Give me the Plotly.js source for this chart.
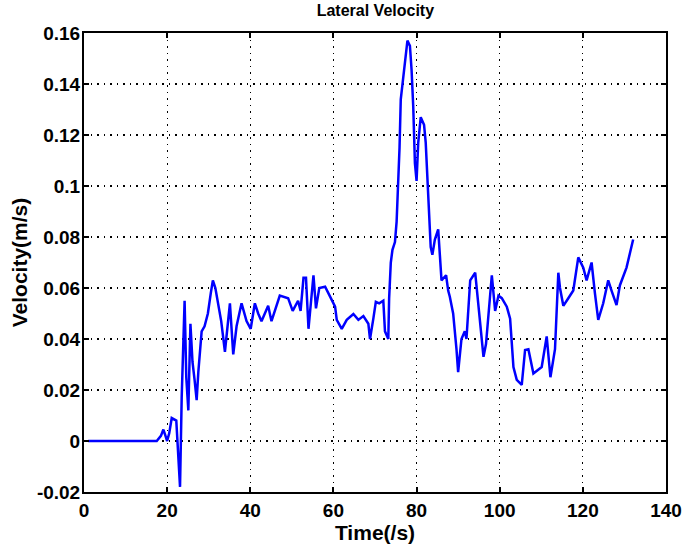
<!DOCTYPE html>
<html>
<head>
<meta charset="utf-8">
<script src="https://cdn.plot.ly/plotly-3.0.1.min.js"></script>
<style>
  body { margin: 0; background: #fff; }
  #plot { width: 685px; height: 547px; }
</style>
</head>
<body>
<div id="plot"></div>
<script>
// time (s) and lateral velocity (m/s)
var time = [1, 5, 10, 15, 17.5, 18.5, 19.1, 19.6, 20, 20.5,
  21.1, 22.2, 22.7, 23.1, 23.5, 23.9, 24.2, 24.6, 25.1, 25.6,
  25.9, 26.1, 26.6, 27.1, 27.5, 28.3, 29, 29.8, 30.5, 31,
  31.6, 32.2, 33, 33.9, 34.5, 35.1, 35.9, 36.7, 37.9, 39.1,
  40.1, 41.1, 41.9, 42.7, 44.3, 45.1, 47.1, 49.1, 50.2, 51.5,
  52.1, 52.8, 53.4, 54, 55.2, 55.8, 56.6, 58, 59.2, 60.4,
  60.8, 62, 63.2, 64.8, 66, 67.2, 68.4, 68.8, 69.6, 70.2,
  71, 72, 72.4, 73.2, 73.4, 73.8, 74.2, 74.8, 75.2, 75.6,
  75.9, 76.2, 77.2, 77.8, 78.4, 78.8, 79.2, 79.6, 80, 80.4,
  81, 81.8, 82.2, 82.6, 83, 83.4, 83.8, 84.4, 85.2, 85.6,
  86, 87.1, 87.6, 88, 88.8, 89.6, 90, 90.8, 91.6, 92,
  92.9, 94.1, 94.5, 95.3, 96.1, 96.7, 97.7, 98.1, 98.9, 99.7,
  100.5, 101.7, 102.5, 103.3, 104.1, 105.3, 106.1, 106.9, 108.1, 110.1,
  111.3, 112.2, 113.3, 113.7, 114.1, 114.5, 115.3, 116.5, 117.7, 118.9,
  120.1, 120.9, 122.1, 122.9, 123.7, 124.9, 126.1, 126.9, 128.1, 128.9,
  130.5, 132.1]

var velocity = [0, 0, 0, 0, 0, 0.002, 0.0045, 0.002, 0.0, 0.003,
  0.009, 0.008, -0.005, -0.018, 0.017, 0.041, 0.055, 0.025, 0.012, 0.046,
  0.038, 0.031, 0.024, 0.016, 0.027, 0.043, 0.045, 0.050, 0.058, 0.063,
  0.060, 0.055, 0.047, 0.035, 0.045, 0.054, 0.034, 0.045, 0.054, 0.047,
  0.044, 0.054, 0.050, 0.047, 0.053, 0.047, 0.057, 0.056, 0.051, 0.055,
  0.051, 0.064, 0.064, 0.044, 0.065, 0.052, 0.060, 0.0605, 0.0566, 0.0527,
  0.0475, 0.044, 0.0475, 0.0498, 0.0475, 0.049, 0.046, 0.040, 0.048, 0.0546,
  0.054, 0.055, 0.043, 0.040, 0.056, 0.070, 0.075, 0.078, 0.086, 0.100,
  0.115, 0.134, 0.148, 0.157, 0.155, 0.1455, 0.131, 0.109, 0.102, 0.117,
  0.127, 0.124, 0.117, 0.102, 0.087, 0.076, 0.073, 0.079, 0.083, 0.072,
  0.063, 0.065, 0.059, 0.0566, 0.050, 0.036, 0.027, 0.040, 0.043, 0.040,
  0.063, 0.066, 0.059, 0.0475, 0.033, 0.038, 0.059, 0.065, 0.051, 0.057,
  0.056, 0.0527, 0.048, 0.029, 0.024, 0.022, 0.0357, 0.036, 0.0265, 0.029,
  0.041, 0.025, 0.036, 0.049, 0.066, 0.060, 0.053, 0.056, 0.059, 0.072,
  0.068, 0.063, 0.070, 0.058, 0.0475, 0.054, 0.063, 0.059, 0.0533, 0.061,
  0.068, 0.079]

var xTicks = [0, 20, 40, 60, 80, 100, 120, 140]
var yTicks = [-0.02, 0, 0.02, 0.04, 0.06, 0.08, 0.1, 0.12, 0.14, 0.16]
var yTickText = ["-0.02", "0", "0.02", "0.04", "0.06", "0.08", "0.1", "0.12", "0.14", "0.16"]

var trace = [{
  x: time,
  y: velocity,
  type: "scatter",
  mode: "lines",
  line: {color: "#0000ff", width: 2.5},
  hoverinfo: "skip"
}]

var tickFont = {family: "Liberation Sans, Arial, sans-serif", size: 19, color: "#000", weight: "bold"}
var labelFont = {family: "Liberation Sans, Arial, sans-serif", size: 21, color: "#000", weight: "bold"}

var layout = {
  width: 685,
  height: 547,
  margin: {l: 84, r: 19, t: 33, b: 55},
  paper_bgcolor: "#fff",
  plot_bgcolor: "#fff",
  showlegend: false,
  title: {
    text: "Lateral Velocity",
    font: {family: "Liberation Sans, Arial, sans-serif", size: 16, color: "#000", weight: "bold"},
    x: 0.548, xanchor: "center",
    y: 1 - 10 / 547, yanchor: "middle", yref: "container"
  },
  xaxis: {
    range: [0, 140],
    tickvals: xTicks,
    ticks: "inside", ticklen: 5, tickwidth: 2, tickcolor: "#000",
    showline: true, linecolor: "#000", linewidth: 2, mirror: "allticks",
    showgrid: true, gridcolor: "#000", gridwidth: 1.2, griddash: "1.5px,5px",
    zeroline: false,
    tickfont: tickFont,
    title: {text: "Time(/s)", font: labelFont, standoff: 2}
  },
  yaxis: {
    range: [-0.02, 0.16],
    tickvals: yTicks,
    ticktext: yTickText,
    ticks: "inside", ticklen: 5, tickwidth: 2, tickcolor: "#000",
    showline: true, linecolor: "#000", linewidth: 2, mirror: "allticks",
    showgrid: true, gridcolor: "#000", gridwidth: 1.2, griddash: "1.5px,5px",
    zeroline: false,
    ticklabelstandoff: -2,
    tickfont: tickFont,
    title: {text: "Velocity(m/s)", font: labelFont, standoff: 4}
  }
}

Plotly.newPlot("plot", trace, layout, {displayModeBar: false, staticPlot: true})
</script>
</body>
</html>
